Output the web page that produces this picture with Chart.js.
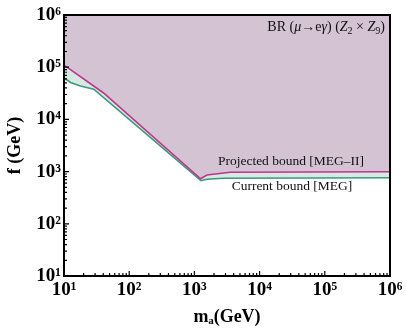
<!DOCTYPE html>
<html lang="en">
<head>
    <meta charset="UTF-8">
    <title>BR(mu -> e gamma) bounds</title>
    <style>
        body { margin: 0; background: #fff; }
        #wrap { width: 406px; height: 329px; }
    </style>
</head>
<body>
    <div id="wrap"><canvas id="boundsChart" width="406" height="329"></canvas></div>

    <script src="https://cdn.jsdelivr.net/npm/chart.js"></script>
    <script>
        // values (GeV)
        const projMass = [10, 40, 1245, 1560, 3550, 1e6];
        const projF    = [1.1e5, 3.24e4, 728, 861, 970, 995];
        const currMass = [10, 12.6, 17.9, 28.6, 1262, 1560, 2770, 1e6];
        const currF    = [6.2e4, 5.1e4, 4.37e4, 3.78e4, 670, 713, 745, 764];
        const tickValues = [1e1, 1e2, 1e3, 1e4, 1e5, 1e6];
        const tickLabels = ['10¹', '10²', '10³', '10⁴', '10⁵', '10⁶'];

        const serif = '"Liberation Serif", "DejaVu Serif", serif';

        function toPoints(xs, ys) {
            return xs.map((m, i) => ({ x: m, y: ys[i] }));
        }

        // draws text made of runs: [text, style] with style n / i / sub
        function drawRuns(ctx, runs, x, yBase, size, align) {
            const fontFor = s => s === 'sub' ? (size * 0.72) + 'px ' + serif
                : (s === 'i' ? 'italic ' : '') + size + 'px ' + serif;
            let w = 0;
            runs.forEach(r => { ctx.font = fontFor(r[1]); w += ctx.measureText(r[0]).width; });
            let xx = align === 'right' ? x - w : (align === 'center' ? x - w / 2 : x);
            runs.forEach(r => {
                ctx.font = fontFor(r[1]);
                ctx.fillText(r[0], xx, yBase + (r[1] === 'sub' ? size * 0.22 : 0));
                xx += ctx.measureText(r[0]).width;
            });
        }

        const framePlugin = {
            id: 'frame',
            afterDatasetsDraw(chart) {
                const { ctx, chartArea: a, scales: { x, y } } = chart;
                ctx.save();
                ctx.strokeStyle = '#000';
                ctx.lineWidth = 1.2;
                ctx.beginPath();
                for (let e = 1; e < 6; e++) {
                    for (let k = 1; k <= 9; k++) {
                        const v = k * Math.pow(10, e);
                        const len = k === 1 ? 5 : 3;
                        const px = x.getPixelForValue(v);
                        ctx.moveTo(px, a.bottom);
                        ctx.lineTo(px, a.bottom - len);
                        const py = y.getPixelForValue(v);
                        ctx.moveTo(a.left, py);
                        ctx.lineTo(a.left + len, py);
                    }
                }
                ctx.stroke();
                ctx.lineWidth = 2;
                ctx.strokeRect(a.left, a.top, a.right - a.left, a.bottom - a.top);

                ctx.fillStyle = '#111';
                ctx.textBaseline = 'alphabetic';
                drawRuns(ctx, [['BR (', 'n'], ['μ', 'i'], ['→e', 'n'], ['γ', 'i'], [') (', 'n'],
                    ['Z', 'i'], ['2', 'sub'], [' × ', 'n'], ['Z', 'i'], ['9', 'sub'], [')', 'n']],
                    a.right - 5, 31, 14, 'right');
                drawRuns(ctx, [['Projected bound [MEG–II]', 'n']], 291, 164.5, 13.5, 'center');
                drawRuns(ctx, [['Current bound [MEG]', 'n']], 292, 189.5, 13.5, 'center');
                ctx.restore();
            }
        };

        const axisTicks = {
            font: { family: serif, size: 19, weight: 'bold' },
            color: '#000',
            maxRotation: 0,
            autoSkip: false,
            callback: (v, i) => tickLabels[i]
        };

        new Chart(document.getElementById('boundsChart'), {
            type: 'scatter',
            data: {
                datasets: [
                    {
                        label: 'Projected bound [MEG-II]',
                        data: toPoints(projMass, projF),
                        showLine: true,
                        borderColor: '#c2338f',
                        borderWidth: 1.6,
                        backgroundColor: '#d3c3d3',
                        fill: 'end',
                        pointRadius: 0
                    },
                    {
                        label: 'Current bound [MEG]',
                        data: toPoints(currMass, currF),
                        showLine: true,
                        borderColor: '#3b9a7a',
                        borderWidth: 1.6,
                        backgroundColor: '#d6e9e2',
                        fill: 'end',
                        pointRadius: 0
                    }
                ]
            },
            options: {
                responsive: false,
                animation: false,
                layout: { padding: { left: 0, right: 16, top: 15, bottom: 0 } },
                plugins: {
                    legend: { display: false },
                    tooltip: { enabled: false }
                },
                scales: {
                    x: {
                        type: 'logarithmic',
                        min: 10,
                        max: 1e6,
                        afterBuildTicks: s => { s.ticks = tickValues.map(v => ({ value: v })); },
                        afterFit: s => { s.height = 53; },
                        ticks: Object.assign({ padding: 3 }, axisTicks),
                        grid: { display: false, drawTicks: false },
                        border: { display: false },
                        title: {
                            display: true,
                            text: 'mₐ(GeV)',
                            color: '#000',
                            font: { family: serif, size: 18, weight: 'bold' },
                            padding: { top: 0, bottom: 1 }
                        }
                    },
                    y: {
                        type: 'logarithmic',
                        min: 10,
                        max: 1e6,
                        afterBuildTicks: s => { s.ticks = tickValues.map(v => ({ value: v })); },
                        afterFit: s => { s.width = 64; },
                        ticks: Object.assign({ padding: 3 }, axisTicks),
                        grid: { display: false, drawTicks: false },
                        border: { display: false },
                        title: {
                            display: true,
                            text: 'f (GeV)',
                            color: '#000',
                            font: { family: serif, size: 18, weight: 'bold' },
                            padding: { top: 5, bottom: 0 }
                        }
                    }
                }
            },
            plugins: [framePlugin]
        });
    </script>
</body>
</html>
